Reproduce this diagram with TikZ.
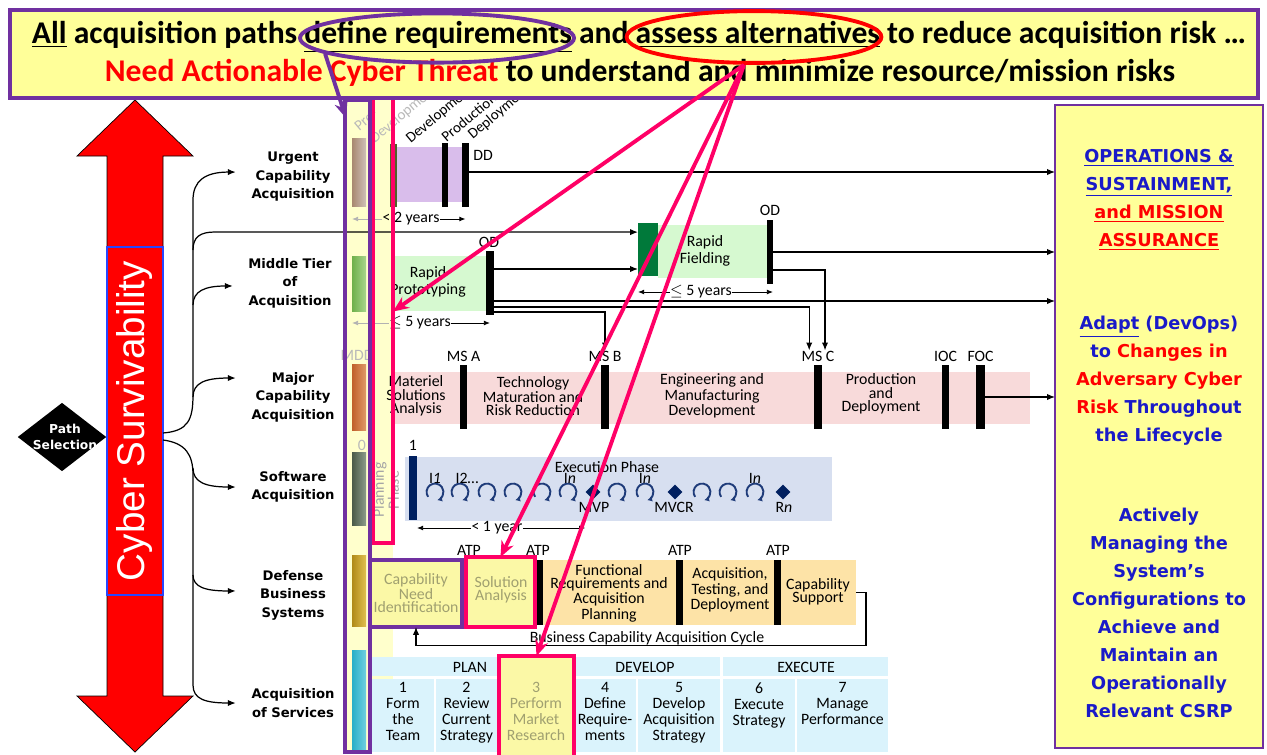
\documentclass[tikz,border=0pt]{standalone}
\usepackage{fontspec}
\setmainfont{Carlito}
\newfontfamily\verdf{DejaVu Sans}
\newfontfamily\arialf{Liberation Sans}
\usetikzlibrary{arrows.meta, shapes.geometric, positioning, fit, calc}

\definecolor{banyel}{HTML}{FFFF99}
\definecolor{purp}{HTML}{7030A0}
\definecolor{hotpink}{HTML}{FF0066}
\definecolor{navyb}{HTML}{002060}
\definecolor{cycblue}{HTML}{1F3C7A}
\definecolor{txtblue}{HTML}{1A1AC8}
\definecolor{csblue}{HTML}{2846FF}
\definecolor{lav}{HTML}{D9BDEB}
\definecolor{olivebar}{HTML}{4F6228}
\definecolor{ltgreen}{HTML}{D6F9D0}
\definecolor{dkgreen}{HTML}{00793A}
\definecolor{ltpink}{HTML}{F8DADA}
\definecolor{ltblue}{HTML}{D7DFF0}
\definecolor{ltorange}{HTML}{FDE3A7}
\definecolor{ltcyan}{HTML}{DAF3FC}
\definecolor{paleyel}{HTML}{FFFFCC}
\definecolor{hlyel}{HTML}{FBF8A6}
\definecolor{fadetxt}{HTML}{A0A070}
\definecolor{urgA}{HTML}{A88870}
\definecolor{urgB}{HTML}{D0C0B8}
\definecolor{midA}{HTML}{6FB04A}
\definecolor{midB}{HTML}{A8D48C}
\definecolor{majA}{HTML}{C0602A}
\definecolor{majB}{HTML}{E09A68}
\definecolor{swA}{HTML}{4A5A48}
\definecolor{swB}{HTML}{8C9C8A}
\definecolor{dbsA}{HTML}{B08A18}
\definecolor{dbsB}{HTML}{E0C050}
\definecolor{svcA}{HTML}{28AFC8}
\definecolor{svcB}{HTML}{70D0E0}

\begin{document}
\begin{tikzpicture}[x=0.02cm, y=-0.02cm,
  font=\fontsize{9}{7.6}\selectfont,
  area/.style={inner sep=0pt, outer sep=0pt},
  blkbar/.style={area, fill=black},
  txt/.style={align=center, inner sep=0pt},
  arr/.style={-{Latex[length=4.5pt, width=3.6pt]}, line width=0.7pt},
  dimarr/.style={-{Latex[length=3.5pt, width=2.8pt]}, line width=0.5pt},
  pathlbl/.style={font=\verdf\bfseries\fontsize{7.5}{10.5}\selectfont, align=center,
                  text width=52pt, inner xsep=6.4pt, inner ysep=0pt},
  opstxt/.style={font=\verdf\bfseries\fontsize{10.1}{15.9}\selectfont, align=center,
                 text=txtblue, inner sep=0pt},
  bantxt/.style={font=\bfseries\fontsize{18}{20}\selectfont, inner sep=0pt},
  phase/.style={font=\fontsize{8.5}{8.5}\selectfont, rotate=40, anchor=west, inner sep=0pt},
  hotarr/.style={hotpink, line width=2.2pt, -{Stealth[length=9pt, width=7.5pt]}},
  msdia/.style={diamond, fill=navyb, inner sep=0pt, minimum size=8.5pt},
  cyc/.pic={\draw[cycblue, line width=1.1pt, -{Latex[length=2.8pt, width=3.2pt]}]
             (215:4.8pt) arc[start angle=215, end angle=-75, radius=4.8pt];},
  svc/.style={area, fill=ltcyan},
  svctxt/.style={txt, anchor=north, font=\fontsize{9}{9.1}\selectfont}
]
\path[use as bounding box, fill=white] (0,0) rectangle (1267,754);

\fill[red, draw=black, line width=0.4pt] (135,100) -- (193,156) -- (163,156) -- (163,696)
  -- (193,696) -- (135,752) -- (77,696) -- (107,696) -- (107,156) -- (77,156) -- cycle;
\node[area, fill=red, draw=csblue, line width=0.8pt, fit={(107,247) (163,595)}] (csBox) {};
\node[rotate=90, text=white, font=\arialf\fontsize{22}{22}\selectfont, inner sep=0pt]
  (csTxt) at (csBox.center) {Cyber Survivability};
\node[diamond, fill=black, inner sep=0pt, minimum width=50.5pt, minimum height=39pt] (psel) at (62,437) {};
\node[txt, text=white, font=\verdf\bfseries\fontsize{7}{9.5}\selectfont] (pselTxt) at (65,437) {Path\\Selection};

\node[pathlbl] (lblUrg) at (293,177) {Urgent\\Capability\\Acquisition};
\node[pathlbl] (lblMid) at (290,283) {Middle Tier\\of\\Acquisition};
\node[pathlbl] (lblMaj) at (293,397) {Major\\Capability\\Acquisition};
\node[pathlbl] (lblSw) at (293,487) {Software\\Acquisition};
\node[pathlbl] (lblDbs) at (293,595) {Defense\\Business\\Systems};
\node[pathlbl] (lblSvc) at (293,703) {Acquisition\\of Services};

\node[area, fill=banyel, draw=purp, line width=1pt, fit={(1055,105) (1263,748)}] (ops) {};
\node[opstxt] (opsT1) at (1159,200) {\underline{OPERATIONS \&}\\\underline{SUSTAINMENT,}\\
  {\color{red}\underline{and MISSION}}\\{\color{red}\underline{ASSURANCE}}};
\node[opstxt] (opsT2) at (1159,381) {\underline{Adapt} (DevOps)\\to {\color{red}Changes in}\\
  {\color{red}Adversary Cyber}\\{\color{red}Risk} Throughout\\the Lifecycle};
\node[opstxt] (opsT3) at (1159,613) {Actively\\Managing the\\System’s\\Configurations to\\
  Achieve and\\Maintain an\\Operationally\\Relevant CSRP};

\node[area, fill=paleyel, fit={(346,100) (393,752)}] (colBg) {};
\node[area, left color=urgA, right color=urgB, fit={(352,138) (366,206)}] (barUrg) {};
\node[area, left color=midA, right color=midB, fit={(352,256) (366,311)}] (barMid) {};
\node[area, left color=majA, right color=majB, fit={(352,364) (366,430)}] (barMaj) {};
\node[area, left color=swA, right color=swB, fit={(352,452) (366,525)}] (barSw) {};
\node[area, left color=dbsA, right color=dbsB, fit={(352,555) (366,626)}] (barDbs) {};
\node[area, left color=svcA, right color=svcB, fit={(352,650) (366,752)}] (barSvc) {};

\node[phase, text=gray!55] (phPre) at (356,128) {Pre-};
\node[phase, text=gray!55] (phPreDev) at (372,141) {Development};
\node[phase] (phDev) at (408,141) {Development};
\node[phase] (phProd) at (443,139) {Production};
\node[phase] (phDepl) at (470,137) {Deployment};

\node[area, fill=lav, fit={(397,147) (463,202)}] (ucaBand) {};
\node[area, fill=olivebar, fit={(390,144) (397,207)}] (ucaStart) {};
\node[blkbar, fit={(442,143) (448,207)}] (ucaB1) {};
\node[blkbar, fit={(462,143) (469,207)}] (ucaB2) {};
\node[txt] (lblDD) at (483,155) {DD};
\node[txt] (dim2) at (411,219) {< 2 years};
\draw[dimarr, gray!60] (dim2.west) -- (dim2.west -| barUrg.west);
\draw[dimarr] (dim2.east) -- (dim2.east -| ucaB2.center);
\draw[arr] ($(ucaB2.east)+(0,-3)$) coordinate (tD) -- (tD -| ops.west);

\node[area, fill=ltgreen, fit={(393,256) (486,311)}] (protoBand) {};
\node[txt, font=\fontsize{9}{9.4}\selectfont] (protoTxt) at (428,282) {Rapid\\Prototyping};
\node[blkbar, fit={(486,251) (494,315)}] (odP) {};
\node[txt] (lblODp) at (489,242) {OD};
\node[area, fill=dkgreen, fit={(638,223) (658,276)}] (rfDark) {};
\node[area, fill=ltgreen, fit={(658,225) (767,278)}] (rfBand) {};
\node[txt, font=\fontsize{9}{9.4}\selectfont] (rfTxt) at (705,251) {Rapid\\Fielding};
\node[blkbar, fit={(767,220) (773,284)}] (odF) {};
\node[txt] (lblODf) at (770,210) {OD};
\node[txt] (dim5a) at (420,323) {$\le$ 5 years};
\draw[dimarr, gray!60] (dim5a.west) -- (dim5a.west -| barMid.west);
\draw[dimarr] (dim5a.east) -- (dim5a.east -| odP.center);
\node[txt] (dim5b) at (701,292) {$\le$ 5 years};
\draw[dimarr] (dim5b.west) -- (dim5b.west -| rfDark.west);
\draw[dimarr] (dim5b.east) -- (dim5b.east -| odF.east);

\node[area, fill=ltpink, fit={(393,372) (1030,424)}] (majBand) {};
\foreach \nm/\xa/\xb/\lb in {msA/460/467/MS A, msB/601/609/MS B, msC/814/822/MS C,
                             ioc/942/949/IOC, foc/976/985/FOC}{
  \node[blkbar, fit={(\xa,365) (\xb,429)}] (\nm) {};
  \node[txt, above=2pt of \nm] (lbl\nm) {\lb};
}
\node[txt, text=gray!55] (lblMDD) at (357,355) {MDD};
\node[txt] (majT1) at (416,396) {Materiel\\Solutions\\Analysis};
\node[txt] (majT2) at (533,396) {Technology\\Maturation and\\Risk Reduction};
\node[txt] (majT3) at (712,396) {Engineering and\\Manufacturing\\Development};
\node[txt] (majT4) at (881,394) {Production\\and\\Deployment};
\draw[arr] (foc.east) -- (foc.east -| ops.west);

\draw[arr] ($(odP.east)+(0,-14)$) coordinate (tP0) -- (tP0 -| rfDark.west);
\draw[arr] ($(odP.east)+(0,18)$) coordinate (tP1) -- (tP1 -| ops.west);
\draw[arr] ($(odP.east)+(0,24)$) -| ([xshift=-5pt]lblmsC.north);
\draw[arr] ($(odP.east)+(0,29)$) -| (lblmsB.north);
\draw[arr] (odF.east) -- (odF.east -| ops.west);
\draw[arr] ($(odF.east)+(0,18)$) -| ([xshift=4pt]lblmsC.north);

\node[area, fill=ltblue, fit={(405,457) (832,521)}] (swBand) {};
\node[area, fill=navyb, fit={(409,456) (417,520)}] (swBar) {};
\node[txt] (lblOne) at (413,445) {1};
\node[txt, text=gray!55] (lblZero) at (362,445) {0};
\node[txt, rotate=90, text=gray!70, font=\fontsize{9}{8.5}\selectfont] (lblPlan) at (386,490) {Planning\\Phase};
\node[txt] (lblExec) at (607,467) {Execution Phase};
\foreach \cx [count=\i] in {435,460,487,513,542,568,617,645,702,728,755}
  \pic (cy\i) at (\cx,492) {cyc};
\node[msdia] (dMvp) at (593,492) {};
\node[msdia] (dMvcr) at (675,492) {};
\node[msdia] (dRn) at (783,492) {};
\node[txt] (lblI1) at (435,478) {I\textit{1}};
\node[txt] (lblI2) at (467,478) {I2\dots};
\node[txt] (lblIn1) at (570,478) {I\textit{n}};
\node[txt] (lblIn2) at (645,478) {I\textit{n}};
\node[txt] (lblIn3) at (755,478) {I\textit{n}};
\node[txt] (lblMvp) at (594,507) {MVP};
\node[txt] (lblMvcr) at (674,507) {MVCR};
\node[txt] (lblRn) at (784,507) {R\textit{n}};
\node[txt] (dim1) at (497,528) {< 1 year};
\draw[dimarr] (dim1.west) -- (dim1.west -| swBar.east);
\draw[dimarr] (dim1.east) -- (dim1.east -| dMvp.west);

\node[area, fill=ltorange, fit={(369,560) (856,625)}] (dbsBand) {};
\foreach \nm/\xa/\xb in {atp2/537/543, atp3/676/683, atp4/774/781}
  \node[blkbar, fit={(\xa,560) (\xb,625)}] (\nm) {};
\node[txt] (lblAtp1) at (469,550) {ATP};
\node[txt] (lblAtp2) at (538,550) {ATP};
\node[txt] (lblAtp3) at (680,550) {ATP};
\node[txt] (lblAtp4) at (778,550) {ATP};
\node[area, fill=hlyel, draw=purp, line width=1.8pt, fit={(370,560) (462,627)}] (capNeed) {};
\node[txt, text=fadetxt] (capNeedT) at (416,593) {Capability\\Need\\Identification};
\node[area, fill=hlyel, draw=hotpink, line width=1.8pt, fit={(466,557) (535,627)}] (solAn) {};
\node[txt, text=fadetxt] (solAnT) at (501,590) {Solution\\Analysis};
\node[txt] (dbsT1) at (609,593) {Functional\\Requirements and\\Acquisition\\Planning};
\node[txt] (dbsT2) at (730,590) {Acquisition,\\Testing, and\\Deployment};
\node[txt] (dbsT3) at (818,592) {Capability\\Support};
\draw[arr, line width=0.6pt] (dbsBand.east) -- ++(10,0) -- ++(0,53) -| (capNeed.south);
\node[txt] (lblCycle) at (647,638) {Business Capability Acquisition Cycle};

\node[svc, fit={(372,657) (572,676)}] (hdPlan) {};
\node[svc, fit={(575,657) (720,676)}] (hdDev) {};
\node[svc, fit={(723,657) (888,676)}] (hdExe) {};
\node[txt] (lblPlanH) at (470,667) {PLAN};
\node[txt] (lblDevH) at (645,667) {DEVELOP};
\node[txt] (lblExeH) at (806,667) {EXECUTE};
\foreach \nm/\xa/\xb/\tx in {c1/372/434/{1\\Form\\the\\Team}, c2/436/497/{2\\Review\\Current\\Strategy},
    c4/574/636/{4\\Define\\Require-\\ments}, c5/638/720/{5\\Develop\\Acquisition\\Strategy},
    c6/723/795/{6\\Execute\\Strategy}, c7/797/888/{7\\Manage\\Performance}}{
  \node[svc, fit={(\xa,679) (\xb,752)}] (\nm) {};
  \node[svctxt] (\nm txt) at ($(\nm.north)+(0,3)$) {\tx};
}
\node[area, fill=hlyel, draw=hotpink, line width=1.8pt, fit={(499,656) (574,758)}] (mktRes) {};
\node[svctxt, text=fadetxt] (mktResT) at (536,682) {3\\Perform\\Market\\Research};

\draw[arr] ($(csBox.east)+(0,12)$) .. controls (188,431) and (193,420) .. (193,395) -- (193,200)
  .. controls (193,181) and (205,172) .. ([yshift=2.8pt]lblUrg.west);
\draw[arr] (193,250) .. controls (193,237) and (200,232) .. (215,232) -- ([yshift=9.9pt]rfDark.west);
\draw[arr] (193,305) .. controls (193,291) and (205,286) .. ([yshift=-1.7pt]lblMid.west);
\draw[arr] (193,397) .. controls (193,383) and (205,378) .. ([yshift=10.8pt]lblMaj.west);
\draw[arr] ($(csBox.east)+(0,19)$) .. controls (186,443) and (193,455) .. (193,475) -- (193,685)
  .. controls (193,699) and (205,703) .. (lblSvc.west);
\draw[arr] (193,468) .. controls (193,482) and (205,487) .. (lblSw.west);
\draw[arr] (193,575) .. controls (193,587) and (205,591) .. ([yshift=2.3pt]lblDbs.west);

\node[area, draw=hotpink, line width=1.8pt, fit={(373,98) (393,543)}] (pinkCol) {};
\node[area, draw=purp, line width=1.8pt, fit={(345,100) (370,752)}] (purpCol) {};

\node[area, fill=banyel, draw=purp, line width=2.3pt, fit={(10,10) (1258,98)}] (banner) {};
\node[bantxt] (ban1) at (639,37) {\underline{All} acquisition paths \underline{define requirements}
  and \underline{assess alternatives} to reduce acquisition risk …};
\node[bantxt] (ban2) at (640,73) {{\color{red}Need Actionable Cyber Threat} to understand and
  minimize resource/mission risks};
\node[ellipse, draw=purp, line width=2.2pt, minimum width=156pt, minimum height=28pt, inner sep=0pt]
  (ellReq) at (437,38) {};
\node[ellipse, draw=red, line width=2.2pt, minimum width=145pt, minimum height=29.5pt, inner sep=0pt]
  (ellAlt) at (754,37) {};

\coordinate (reqTip) at (346,118);
\draw[purp, line width=2.2pt, -{Stealth[length=9pt, width=7.5pt]}] (ellReq.188) -- (reqTip);
\draw[hotarr] ($(ellAlt.south)+(-10,0)$) -- ($(pinkCol.east)+(0,-9)$);
\draw[hotarr] ($(ellAlt.south)+(-10,0)$) -- (solAn.north);
\draw[hotarr] ($(ellAlt.south)+(-10,0)$) -- (mktRes.north);
\end{tikzpicture}
\end{document}
